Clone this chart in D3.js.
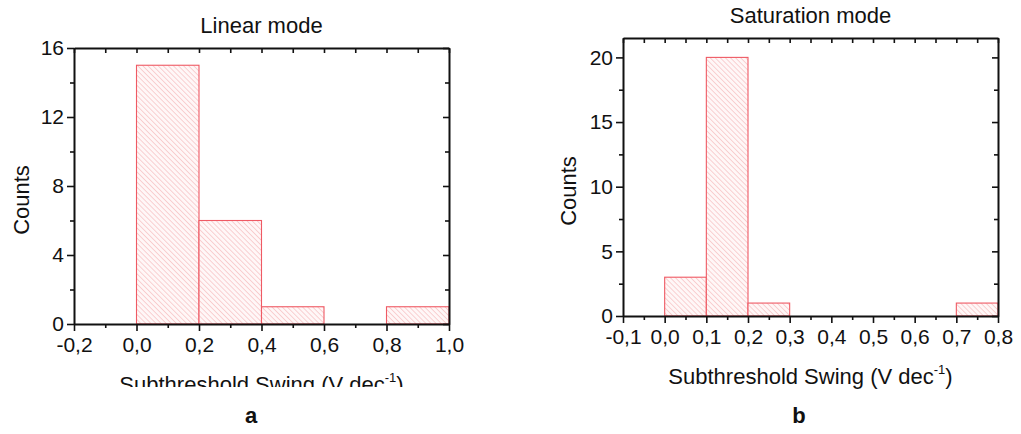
<!DOCTYPE html>
<html>
<head>
<meta charset="utf-8">
<script src="https://cdn.jsdelivr.net/npm/d3@7"></script>
<style>
  html, body { margin: 0; padding: 0; background: #fff; }
  svg { display: block; }
  text { font-family: "Liberation Sans", Arial, sans-serif; fill: #111; }
</style>
</head>
<body>
<svg id="fig" width="1021" height="434"></svg>
<script>
// Bin edges and counts for each histogram
const linearEdges = [0.0, 0.2, 0.4, 0.6, 0.8, 1.0];
const linearCounts = [15, 6, 1, 0, 1];
const linearXTicks = [-0.2, 0.0, 0.2, 0.4, 0.6, 0.8, 1.0];
const linearYTicks = [0, 4, 8, 12, 16];

const satEdges = [0.0, 0.1, 0.2, 0.3, 0.4, 0.5, 0.6, 0.7, 0.8];
const satCounts = [3, 20, 1, 0, 0, 0, 0, 1];
const satXTicks = [-0.1, 0.0, 0.1, 0.2, 0.3, 0.4, 0.5, 0.6, 0.7, 0.8];
const satYTicks = [0, 5, 10, 15, 20];

const panelTitles = ["Linear mode", "Saturation mode"];
const panelLetters = ["a", "b"];
const xTitle = "Subthreshold Swing (V dec";
const yTitle = "Counts";

const svg = d3.select("#fig");
const defs = svg.append("defs");

// Diagonal hatch used inside the bars
const hatch = defs.append("pattern")
  .attr("id", "hatch")
  .attr("patternUnits", "userSpaceOnUse")
  .attr("width", 3.6).attr("height", 3.6)
  .attr("patternTransform", "rotate(-45)");
hatch.append("rect").attr("width", 3.6).attr("height", 3.6).attr("fill", "#fff7f7");
hatch.append("line")
  .attr("x1", 0).attr("y1", 0).attr("x2", 0).attr("y2", 3.6)
  .attr("stroke", "#f5b0b3").attr("stroke-width", 1.1);

// Comma decimal separator, plain hyphen minus
const fmt = v => (Math.abs(v) < 1e-9 ? 0 : v).toFixed(1).replace(".", ",");

function binsFrom(edges, counts) {
  return counts.map((c, i) => ({ x0: edges[i], x1: edges[i + 1], n: c }));
}

function drawPanel(opt) {
  const g = svg.append("g");
  const x = d3.scaleLinear().domain(opt.xDomain).range([opt.left, opt.right]);
  const y = d3.scaleLinear().domain(opt.yDomain).range([opt.bottom, opt.top]);

  const minorX = d3.range(opt.xDomain[0], opt.xDomain[1] + 1e-9, opt.xMinor)
    .filter(v => !opt.xTicks.some(t => Math.abs(t - v) < 1e-9));
  const minorY = d3.range(opt.yDomain[0], opt.yDomain[1] + 1e-9, opt.yMinor)
    .filter(v => !opt.yTicks.some(t => Math.abs(t - v) < 1e-9));

  // bars
  g.append("g").selectAll("rect")
    .data(binsFrom(opt.edges, opt.counts).filter(d => d.n > 0))
    .join("rect")
    .attr("x", d => x(d.x0))
    .attr("y", d => y(d.n))
    .attr("width", d => x(d.x1) - x(d.x0))
    .attr("height", d => y(0) - y(d.n))
    .attr("fill", "url(#hatch)")
    .attr("stroke", "#ef5a64")
    .attr("stroke-width", 1.1);

  const styleAxis = sel => {
    sel.select(".domain").attr("stroke", "#111").attr("stroke-width", 2);
    sel.selectAll(".tick line").attr("stroke", "#111").attr("stroke-width", 1.6);
    sel.selectAll(".tick text")
      .attr("font-family", "Liberation Sans, Arial, sans-serif")
      .attr("font-size", 21).attr("fill", "#0a0a0a");
  };

  // bottom axis: labelled majors + outward minors
  g.append("g").attr("transform", `translate(0,${opt.bottom})`)
    .call(d3.axisBottom(x).tickValues(opt.xTicks).tickFormat(fmt)
      .tickSizeInner(7).tickSizeOuter(0).tickPadding(6))
    .call(styleAxis);
  g.append("g").attr("transform", `translate(0,${opt.bottom})`)
    .call(d3.axisBottom(x).tickValues(minorX).tickFormat("").tickSizeInner(4).tickSizeOuter(0))
    .call(styleAxis).call(s => s.select(".domain").remove());

  // left axis
  g.append("g").attr("transform", `translate(${opt.left},0)`)
    .call(d3.axisLeft(y).tickValues(opt.yTicks).tickFormat(d3.format("d"))
      .tickSizeInner(7).tickSizeOuter(0).tickPadding(3))
    .call(styleAxis);
  g.append("g").attr("transform", `translate(${opt.left},0)`)
    .call(d3.axisLeft(y).tickValues(minorY).tickFormat("").tickSizeInner(4).tickSizeOuter(0))
    .call(styleAxis).call(s => s.select(".domain").remove());

  // top axis: inward ticks, no labels
  g.append("g").attr("transform", `translate(0,${opt.top})`)
    .call(d3.axisTop(x).tickValues(opt.xTicks.concat(minorX)).tickFormat("")
      .tickSizeInner(-5).tickSizeOuter(0))
    .call(styleAxis);

  // right axis: inward ticks, no labels
  g.append("g").attr("transform", `translate(${opt.right},0)`)
    .call(d3.axisRight(y).tickValues(opt.yTicks).tickFormat("")
      .tickSizeInner(-6).tickSizeOuter(0))
    .call(styleAxis);
  g.append("g").attr("transform", `translate(${opt.right},0)`)
    .call(d3.axisRight(y).tickValues(minorY).tickFormat("")
      .tickSizeInner(-4).tickSizeOuter(0))
    .call(styleAxis).call(s => s.select(".domain").remove());

  const cx = (opt.left + opt.right) / 2;

  // panel title
  g.append("text").attr("x", cx).attr("y", opt.titleY)
    .attr("text-anchor", "middle").attr("font-size", 22).text(opt.title);

  // y axis title
  g.append("text")
    .attr("transform", `translate(${opt.yTitleX},${(opt.top + opt.bottom) / 2 + 14}) rotate(-90)`)
    .attr("text-anchor", "middle").attr("font-size", 22).text(yTitle);

  // x axis title with superscript
  let xg = g;
  if (opt.clipY) {
    const id = "clip-" + opt.letter;
    defs.append("clipPath").attr("id", id)
      .append("rect").attr("x", 0).attr("y", 0).attr("width", 1021).attr("height", opt.clipY);
    xg = g.append("g").attr("clip-path", `url(#${id})`);
  }
  const xt = xg.append("text").attr("x", cx).attr("y", opt.xTitleY)
    .attr("text-anchor", "middle").attr("font-size", 22);
  xt.append("tspan").text(xTitle);
  xt.append("tspan").attr("font-size", 13).attr("dy", -10).text("-1");
  xt.append("tspan").attr("dy", 10).text(")");

  // panel letter
  g.append("text").attr("x", opt.letterX).attr("y", 423)
    .attr("text-anchor", "middle")
    .attr("font-family", "DejaVu Sans, sans-serif")
    .attr("font-weight", "bold").attr("font-size", 22).text(opt.letter);
}

drawPanel({
  edges: linearEdges, counts: linearCounts,
  xTicks: linearXTicks, yTicks: linearYTicks,
  xDomain: [-0.2, 1.0], yDomain: [0, 16], xMinor: 0.1, yMinor: 2,
  left: 74, right: 449, top: 48, bottom: 324,
  title: panelTitles[0], titleY: 33, yTitleX: 29,
  xTitleY: 392, clipY: 387, letter: panelLetters[0], letterX: 251
});

drawPanel({
  edges: satEdges, counts: satCounts,
  xTicks: satXTicks, yTicks: satYTicks,
  xDomain: [-0.1, 0.8], yDomain: [0, 21.5], xMinor: 0.05, yMinor: 2.5,
  left: 623, right: 998, top: 38, bottom: 316,
  title: panelTitles[1], titleY: 23, yTitleX: 576,
  xTitleY: 384, clipY: null, letter: panelLetters[1], letterX: 799
});
</script>
</body>
</html>
